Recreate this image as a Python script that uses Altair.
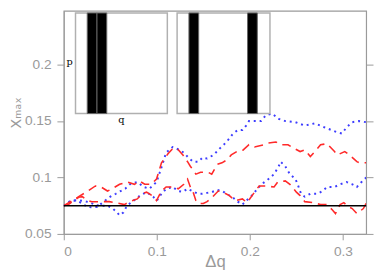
import altair as alt
import pandas as pd

# ---- series ----
b1_x = [0, 0.008, 0.015, 0.02, 0.025, 0.03, 0.036, 0.042, 0.05, 0.056, 0.061, 0.066, 0.071, 0.079, 0.086, 0.092, 0.0997,
        0.105, 0.11, 0.117, 0.124, 0.129, 0.134, 0.139, 0.145, 0.149, 0.154, 0.161, 0.168, 0.175, 0.182, 0.187, 0.192,
        0.196, 0.199, 0.205, 0.212, 0.217, 0.224, 0.231, 0.238, 0.249, 0.259, 0.270, 0.280, 0.294, 0.299, 0.304, 0.310,
        0.317, 0.325]
b1_y = [0.075, 0.080, 0.079, 0.077, 0.074, 0.0735, 0.074, 0.078, 0.083, 0.0856, 0.088, 0.090, 0.094, 0.096, 0.0916,
        0.090, 0.096, 0.109, 0.122, 0.127, 0.1246, 0.122, 0.1176, 0.114, 0.114, 0.1176, 0.1168, 0.120, 0.126, 0.1315,
        0.139, 0.142, 0.142, 0.146, 0.150, 0.150, 0.150, 0.155, 0.1566, 0.152, 0.150, 0.149, 0.146, 0.148, 0.1445,
        0.140, 0.139, 0.1445, 0.149, 0.150, 0.149]

b2_x = [0, 0.005, 0.01, 0.015, 0.022, 0.028, 0.034, 0.04, 0.047, 0.052, 0.056, 0.060, 0.064, 0.068, 0.075, 0.082,
        0.089, 0.096, 0.10, 0.105, 0.110, 0.117, 0.123, 0.128, 0.133, 0.138, 0.144, 0.149, 0.154, 0.159, 0.165, 0.170,
        0.175, 0.182, 0.187, 0.192, 0.197, 0.203, 0.208, 0.213, 0.220, 0.226, 0.231, 0.233, 0.238, 0.243, 0.249, 0.252,
        0.255, 0.259, 0.265, 0.273, 0.278, 0.283, 0.291, 0.297, 0.304, 0.310, 0.315, 0.320, 0.325]
b2_y = [0.075, 0.077, 0.0795, 0.080, 0.079, 0.078, 0.0755, 0.075, 0.075, 0.073, 0.070, 0.0665, 0.069, 0.075, 0.0795,
        0.084, 0.087, 0.083, 0.0795, 0.0856, 0.090, 0.0916, 0.088, 0.0873, 0.090, 0.088, 0.0856, 0.0856, 0.0864, 0.087,
        0.089, 0.088, 0.0856, 0.082, 0.0786, 0.076, 0.080, 0.0847, 0.090, 0.0942, 0.0986, 0.103, 0.110, 0.114, 0.110,
        0.103, 0.0986, 0.0925, 0.0856, 0.083, 0.0856, 0.0856, 0.088, 0.0916, 0.0916, 0.094, 0.096, 0.094, 0.0916,
        0.096, 0.100]

r1_x = [0, 0.008, 0.016, 0.026, 0.034, 0.040, 0.047, 0.052, 0.060, 0.068, 0.076, 0.081, 0.087, 0.094, 0.0997, 0.105,
        0.112, 0.1175, 0.123, 0.128, 0.133, 0.136, 0.142, 0.147, 0.155, 0.159, 0.165, 0.170, 0.176, 0.180, 0.186,
        0.192, 0.199, 0.205, 0.215, 0.220, 0.228, 0.233, 0.241, 0.247, 0.254, 0.259, 0.265, 0.270, 0.276, 0.283,
        0.291, 0.294, 0.302, 0.307, 0.315, 0.318, 0.325]
r1_y = [0.075, 0.079, 0.083, 0.088, 0.0925, 0.0916, 0.088, 0.090, 0.094, 0.096, 0.094, 0.097, 0.094, 0.094, 0.0986,
        0.113, 0.121, 0.126, 0.1246, 0.120, 0.114, 0.110, 0.103, 0.1046, 0.1046, 0.103, 0.1116, 0.113, 0.116, 0.120,
        0.123, 0.1237, 0.129, 0.127, 0.129, 0.1306, 0.1315, 0.129, 0.129, 0.126, 0.123, 0.1245, 0.1185, 0.123, 0.129,
        0.130, 0.123, 0.120, 0.123, 0.120, 0.114, 0.113, 0.113]

r2_x = [0, 0.005, 0.01, 0.016, 0.02, 0.025, 0.03, 0.040, 0.049, 0.056, 0.065, 0.071, 0.079, 0.084, 0.089, 0.0965,
        0.0997, 0.105, 0.110, 0.1175, 0.123, 0.129, 0.133, 0.136, 0.139, 0.142, 0.145, 0.150, 0.154, 0.159, 0.166,
        0.171, 0.178, 0.184, 0.192, 0.197, 0.205, 0.21, 0.217, 0.226, 0.230, 0.238, 0.243, 0.25, 0.254, 0.259, 0.268,
        0.276, 0.283, 0.289, 0.292, 0.297, 0.301, 0.306, 0.31, 0.315, 0.322, 0.325]
r2_y = [0.075, 0.076, 0.079, 0.0825, 0.083, 0.080, 0.0785, 0.0786, 0.0786, 0.0777, 0.076, 0.0786, 0.081, 0.0856,
        0.087, 0.083, 0.0795, 0.088, 0.0916, 0.0916, 0.090, 0.094, 0.0986, 0.0916, 0.087, 0.0795, 0.077, 0.077, 0.0786,
        0.082, 0.088, 0.087, 0.084, 0.0795, 0.081, 0.0777, 0.087, 0.0925, 0.0925, 0.0916, 0.096, 0.097, 0.094, 0.087,
        0.084, 0.0786, 0.0777, 0.076, 0.076, 0.071, 0.068, 0.076, 0.0777, 0.074, 0.0725, 0.068, 0.0725, 0.077]

base_level = [0.075]

x_ticks = [0, 0.1, 0.2, 0.3]
y_ticks = [0.05, 0.1, 0.15, 0.2]

# insets (in data units of the main axes)
inset_x0 = [0.0126, 0.1218]
inset_x1 = [0.1113, 0.2216]
inset_y0 = [0.1567, 0.1567]
inset_y1 = [0.2458, 0.2458]
bar_x0 = [0.0252, 0.0357, 0.1345, 0.1975]
bar_x1 = [0.0357, 0.0462, 0.1450, 0.2080]
inset_labels = ["p", "q"]
label_x = [0.0062, 0.062]
label_y = [0.2026, 0.1506]

rows = []
for name, kind, xs, ys in [("b1", "blue", b1_x, b1_y), ("b2", "blue", b2_x, b2_y),
                           ("r1", "red", r1_x, r1_y), ("r2", "red", r2_x, r2_y)]:
    for i, (xv, yv) in enumerate(zip(xs, ys)):
        rows.append({"series": name, "kind": kind, "dq": xv, "xmax": yv, "order": i})
df = pd.DataFrame(rows)

GRAY = "#9a9a9a"
xscale = alt.Scale(domain=[0, 0.325], nice=False, zero=False)
yscale = alt.Scale(domain=[0.05, 0.2477], nice=False, zero=False)

x_axis = alt.Axis(values=x_ticks, format="~g", title="Δq", grid=False,
                  domainColor=GRAY, tickColor=GRAY, tickSize=6, labelColor=GRAY,
                  labelFont="Liberation Sans", labelFontSize=14, labelPadding=5,
                  titleColor=GRAY, titleFont="Liberation Sans", titleFontSize=17,
                  titleFontWeight="normal", titleBaseline="alphabetic", titleY=33)
y_axis = alt.Axis(values=y_ticks, format="~g", title="Xₘₐₓ", grid=False,
                  domainColor=GRAY, tickColor=GRAY, tickSize=7, labelColor=GRAY,
                  labelFont="Liberation Sans", labelFontSize=14, labelPadding=6,
                  titleColor=GRAY, titleFont="DejaVu Sans", titleFontSize=15,
                  titleFontWeight="normal", titleBaseline="alphabetic", titleAngle=270,
                  titleX=-44, titleY=104, titleAlign="center")
y_axis_right = alt.Axis(orient="right", values=y_ticks, labels=False, title=None, grid=False,
                        domain=False, tickColor=GRAY, tickSize=7)

def X(field):
    return alt.X(field, type="quantitative", scale=xscale, axis=x_axis)

lines = alt.Chart(df).mark_line(clip=True, strokeCap="butt").encode(
    x=X("dq"),
    y=alt.Y("xmax:Q", scale=yscale, axis=y_axis),
    color=alt.Color("kind:N", scale=alt.Scale(domain=["blue", "red"], range=["#3d3dff", "#ff2a2a"]), legend=None),
    strokeDash=alt.StrokeDash("kind:N", scale=alt.Scale(domain=["blue", "red"], range=[[2, 4], [9, 6]]),
                              legend=None),
    strokeWidth=alt.StrokeWidth("kind:N", scale=alt.Scale(domain=["blue", "red"], range=[2, 1.6]), legend=None),
    detail="series:N",
    order="order:Q",
)

right_axis = alt.Chart(df).mark_point(opacity=0).encode(
    x=X("dq"),
    y=alt.Y("xmax:Q", scale=yscale, axis=y_axis_right),
)

base = alt.Chart(pd.DataFrame({"level": base_level})).mark_rule(color="black", strokeWidth=1.5).encode(
    y=alt.Y("level:Q", scale=yscale, axis=None)
)

inset_df = pd.DataFrame({"x0": inset_x0, "x1": inset_x1, "y0": inset_y0, "y1": inset_y1})
insets = alt.Chart(inset_df).mark_rect(fill="white", stroke="#b0b0b0", strokeWidth=1.5).encode(
    x=X("x0"), x2="x1",
    y=alt.Y("y0:Q", scale=yscale, axis=None), y2="y1",
)

bar_df = pd.DataFrame({"x0": bar_x0, "x1": bar_x1,
                       "y0": [inset_y0[0]] * 4, "y1": [inset_y1[0]] * 4})
bars = alt.Chart(bar_df).mark_rect(fill="black", stroke="#666666", strokeWidth=1).encode(
    x=X("x0"), x2="x1",
    y=alt.Y("y0:Q", scale=yscale, axis=None), y2="y1",
)

lab_df = pd.DataFrame({"t": inset_labels, "x": label_x, "y": label_y})
labels = alt.Chart(lab_df).mark_text(font="DejaVu Serif", fontSize=10, color="black").encode(
    x=X("x"),
    y=alt.Y("y:Q", scale=yscale, axis=None),
    text="t:N",
)

chart = alt.layer(lines, right_axis, base, insets, bars, labels).resolve_axis(y="independent").properties(
    width=309, height=228,
    autosize=alt.AutoSizeParams(type="none"),
    padding={"left": 57, "top": 0, "right": 8, "bottom": 34},
).configure_view(stroke=GRAY, strokeWidth=1.2)

chart.save("out.html", embed_options={"renderer": "svg", "actions": False})
